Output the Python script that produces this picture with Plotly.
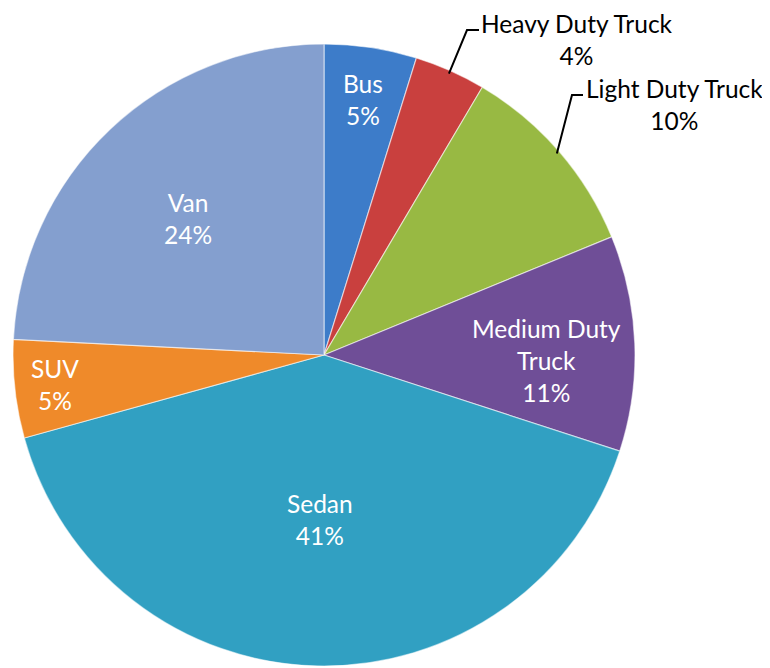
import math
import plotly.graph_objects as go

# ---- data ----
categories = ["Bus", "Heavy Duty Truck", "Light Duty Truck", "Medium Duty Truck", "Sedan", "SUV", "Van"]
label_text = ["Bus", "Heavy Duty Truck", "Light Duty Truck", "Medium Duty<br>Truck", "Sedan", "SUV", "Van"]
shares = [4.8, 3.7, 10.3, 11.2, 40.7, 5.1, 24.2]

# ---- style ----
colors = ["#3D7CC9", "#C9403E", "#98B943", "#6F4E97", "#31A0C2", "#EF8A2A", "#849FCF"]
VW, VH = 770, 668          # browser window
OFF = 8                    # default body margin of the page
W, H = VW - OFF, VH - OFF  # figure size
CX, CY, R = 324, 355, 311  # pie centre / radius in window pixels
FONT = "Lato"
FSIZE = 24.5

# inside labels -> (fraction of radius, angle tweak in degrees) relative to slice mid-angle
inside_pos = {"Bus": (0.83, 0.0), "Medium Duty Truck": (0.717, 3.7), "Sedan": (0.53, 0.0),
              "SUV": (0.87, 0.0), "Van": (0.62, -1.5)}
# outside labels -> text centre (px) and leader elbow (px)
outside_pos = {
    "Heavy Duty Truck": {"text": (577, 39), "elbow": (467, 30), "end": (479, 30)},
    "Light Duty Truck": {"text": (674, 104), "elbow": (572, 95), "end": (583, 95)},
}


def px2paper(x, y):
    return (x - OFF) / W, 1 - (y - OFF) / H


def polar(theta_deg, r):
    t = math.radians(theta_deg)
    return CX + r * math.sin(t), CY - r * math.cos(t)


x0, y1 = px2paper(CX - R, CY - R)
x1, y0 = px2paper(CX + R, CY + R)

fig = go.Figure(
    go.Pie(
        labels=categories,
        values=shares,
        sort=False,
        direction="clockwise",
        rotation=0,
        textinfo="none",
        hoverinfo="label+percent",
        marker=dict(colors=colors, line=dict(color="rgba(255,255,255,0.55)", width=1.2)),
        domain=dict(x=[x0, x1], y=[y0, y1]),
        showlegend=False,
    )
)

total = sum(shares)
cum = 0.0
annotations = []
shapes = []
for cat, txt, v in zip(categories, label_text, shares):
    start = cum / total * 360
    cum += v
    end = cum / total * 360
    mid = (start + end) / 2
    pct = round(v / total * 100)
    text = f"{txt}<br>{pct}%"
    if cat in inside_pos:
        frac, tweak = inside_pos[cat]
        x, y = polar(mid + tweak, R * frac)
        xp, yp = px2paper(x, y)
        annotations.append(dict(x=xp, y=yp, xref="paper", yref="paper", text=text,
                                showarrow=False, xanchor="center", yanchor="middle",
                                font=dict(family=FONT, size=FSIZE, color="white")))
    else:
        pos = outside_pos[cat]
        xp, yp = px2paper(*pos["text"])
        annotations.append(dict(x=xp, y=yp, xref="paper", yref="paper", text=text,
                                showarrow=False, xanchor="center", yanchor="middle",
                                font=dict(family=FONT, size=FSIZE, color="black")))
        sx, sy = polar(mid, R * 0.99)
        pts = [(sx, sy), pos["elbow"], pos["end"]]
        path = "M " + " L ".join(f"{px2paper(a, b)[0]},{px2paper(a, b)[1]}" for a, b in pts)
        shapes.append(dict(type="path", path=path, xref="paper", yref="paper",
                           line=dict(color="black", width=2)))

fig.update_layout(
    width=W,
    height=H,
    margin=dict(l=0, r=0, t=0, b=0),
    paper_bgcolor="white",
    plot_bgcolor="white",
    annotations=annotations,
    shapes=shapes,
)

fig.write_html("out.html")
